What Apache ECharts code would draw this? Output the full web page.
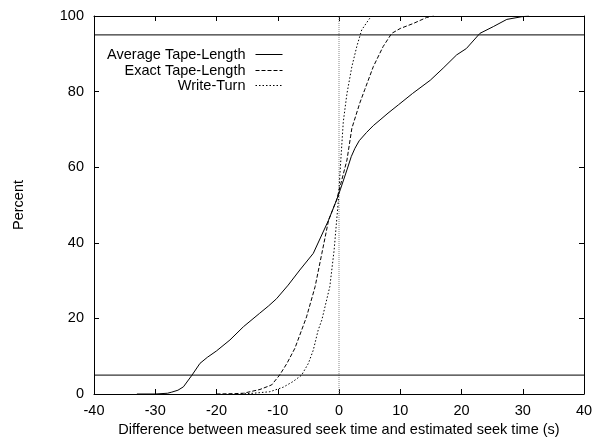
<!DOCTYPE html>
<html>
<head>
<meta charset="utf-8">
<script src="https://cdn.jsdelivr.net/npm/echarts@6/dist/echarts.min.js"></script>
<style>html,body{margin:0;padding:0;background:#fff;}#c{width:599px;height:437px;}</style>
</head>
<body>
<div id="c"></div>
<script>
// Series names
const seriesNames = ['Average Tape-Length', 'Exact Tape-Length', 'Write-Turn'];

// Average Tape-Length (solid)
const avgX = [-33,-30,-28,-27.3,-26.3,-25.4,-24,-22.7,-21.5,-20,-17.8,-15.6,-13,-11.5,-10.2,-8.3,-6.4,-4.2,-1.7,-0.4,0.2,1.3,2.0,2.6,3.3,4.5,5.6,6.7,8,9.7,12,14.9,17,19.2,20.8,23,25.2,27.4,29.8,31];
const avgY = [0,0,0.2,0.5,1,1.9,5,8.1,9.7,11.4,14.3,17.8,21.3,23.3,25.2,28.8,32.8,37.2,46,51.3,54,59.3,62.8,65.0,67.0,69.2,71.0,72.5,74.3,76.5,79.5,83,86.2,89.7,91.4,95.4,97.2,99.1,99.8,100];

// Exact Tape-Length (dashed)
const exactX = [-20,-17,-15.6,-12.9,-11,-9.7,-8.5,-7.2,-6.1,-5.3,-3.9,-2.8,-1.7,-0.4,1.3,2.1,3.4,4.2,5.6,7.2,8.6,10,12.1,14.3,15.5];
const exactY = [0,0.1,0.2,1.2,2.4,5,8.1,12.1,16.9,20.4,28.4,37.2,46,51.3,61.9,70.3,77.0,80.5,86.6,91.9,95.4,96.7,98,99.6,100];

// Write-Turn (dotted)
const turnX = [-16,-14,-11.3,-9.1,-7.5,-6.1,-5,-4.2,-3.4,-2.8,-1.5,-0.8,-0.1,0.3,0.7,1.3,2.1,2.9,3.7,4.8,5.3];
const turnY = [0,0.2,0.6,1.8,3.3,5,8.1,11.6,16.9,19.6,28.4,38,51.3,62,72,79.5,86.6,91.9,96.3,98.9,100];

// Reference lines
const hLines = [5, 95];
const vLine = 0;

// Axes
const xMin = -40, xMax = 40, xStep = 10;
const yMin = 0, yMax = 100, yStep = 20;
const xTitle = 'Difference between measured seek time and estimated seek time (s)';
const yTitle = 'Percent';

const pairs = (xs, ys) => xs.map((x, i) => [x, ys[i]]);
const FONT = "'Liberation Sans', Arial, Helvetica, sans-serif";
const FS = 14.5;

const chart = echarts.init(document.getElementById('c'), null, {renderer: 'canvas'});

const lineStyles = [
  {color: '#000', width: 1, type: 'solid'},
  {color: '#000', width: 1, type: [4, 2]},
  {color: '#000', width: 1, type: [1.5, 2]}
];
const dataSets = [pairs(avgX, avgY), pairs(exactX, exactY), pairs(turnX, turnY)];

const series = seriesNames.map((n, i) => ({
  name: n, type: 'line', data: dataSets[i], symbol: 'none', showSymbol: false,
  lineStyle: lineStyles[i], itemStyle: {color: '#000'}, animation: false, silent: true, z: 5
}));
hLines.forEach(h => series.push({
  name: 'h' + h, type: 'line', data: [[xMin, h], [xMax, h]], symbol: 'none',
  lineStyle: {color: '#000', width: 1}, silent: true, animation: false, z: 4
}));
series.push({
  name: 'zero', type: 'line', data: [[vLine, yMin], [vLine, yMax]], symbol: 'none',
  lineStyle: {color: '#888', width: 1, type: [1, 1]}, silent: true, animation: false, z: 3
});

const legendTops = [47, 63, 78];
const legends = seriesNames.map((n, i) => ({
  data: [n], right: 316, top: legendTops[i], orient: 'horizontal', align: 'right',
  itemWidth: 27, itemHeight: 14, selectedMode: false, padding: 0,
  itemStyle: {opacity: 0, borderWidth: 0},
  lineStyle: {width: 1},
  textStyle: {fontFamily: FONT, fontSize: FS, color: '#000', padding: [0, 5, 0, 0]}
}));

const axisCommon = () => ({
  axisLine: {show: true, onZero: false, lineStyle: {color: '#000', width: 1}},
  axisTick: {show: true, inside: true, length: 5, lineStyle: {color: '#000'}},
  splitLine: {show: false}
});

chart.setOption({
  animation: false,
  backgroundColor: '#fff',
  grid: {left: 94, right: 15, top: 16, bottom: 43, show: false, containLabel: false, outerBoundsMode: 'none'},
  legend: legends,
  xAxis: [
    Object.assign({type: 'value', min: xMin, max: xMax, interval: xStep, position: 'bottom',
      name: xTitle, nameLocation: 'middle', nameGap: 27,
      nameTextStyle: {fontFamily: FONT, fontSize: FS, color: '#000'},
      axisLabel: {fontFamily: FONT, fontSize: FS, color: '#000', margin: 9}}, axisCommon()),
    Object.assign({type: 'value', min: xMin, max: xMax, interval: xStep, position: 'top',
      axisLabel: {show: false}}, axisCommon())
  ],
  yAxis: [
    Object.assign({type: 'value', min: yMin, max: yMax, interval: yStep, position: 'left',
      name: yTitle, nameLocation: 'middle', nameGap: 68, nameRotate: 90,
      nameTextStyle: {fontFamily: FONT, fontSize: FS, color: '#000'},
      axisLabel: {fontFamily: FONT, fontSize: FS, color: '#000', margin: 10}}, axisCommon()),
    Object.assign({type: 'value', min: yMin, max: yMax, interval: yStep, position: 'right',
      axisLabel: {show: false}}, axisCommon())
  ],
  series: series
});
</script>
</body>
</html>
